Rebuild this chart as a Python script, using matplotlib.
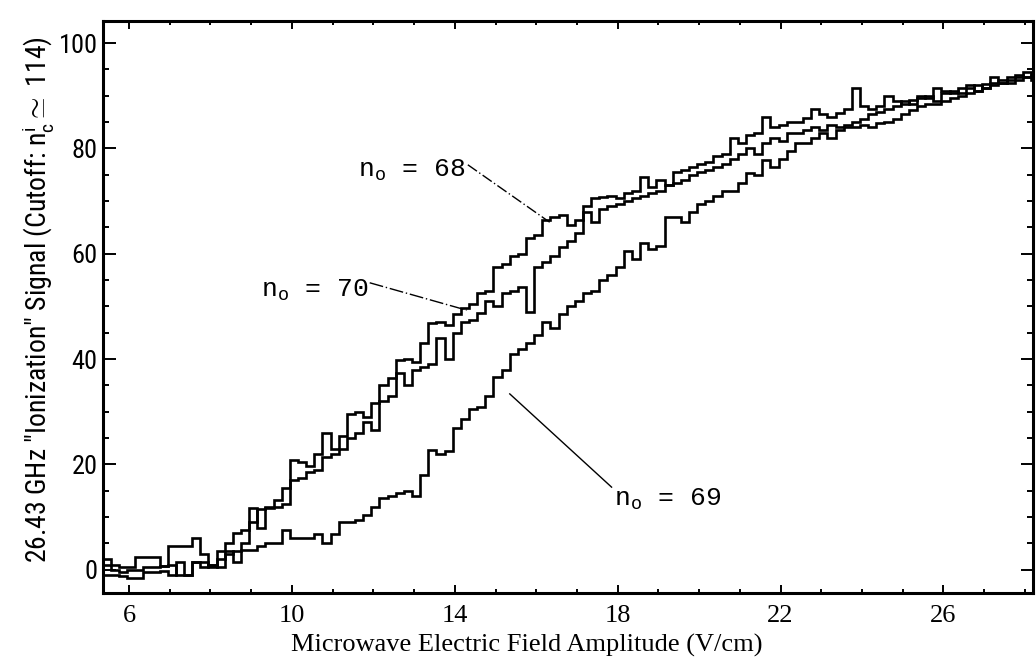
import numpy as np
import matplotlib
matplotlib.use("Agg")
import matplotlib.pyplot as plt
from matplotlib import font_manager
from matplotlib.ticker import MultipleLocator

# ---------------------------------------------------------------- data
# field grid: 0.2 V/cm bins starting at 5.35 V/cm (115 bins)
field_start = 5.35
field_step = 0.2

# n0 = 68 (upper trace through the middle of the scan)
signal_68 = [
    2.0, 1.0, 0.5, 0.5, 2.5,
    2.5, 2.5, 0.8, 4.5, 4.5,
    4.5, 6.0, 3.0, 1.0, 0.5,
    5.0, 7.0, 7.5, 11.8, 8.0,
    11.8, 13.3, 15.5, 20.8, 20.5,
    19.8, 22.0, 26.0, 23.0, 25.5,
    29.5, 30.0, 29.0, 31.6, 35.0,
    36.5, 39.8, 40.0, 39.5, 43.0,
    46.9, 47.0, 46.5, 48.5, 49.7,
    50.5, 52.5, 53.0, 57.5, 58.0,
    59.5, 60.0, 63.0, 63.5, 66.4,
    67.0, 67.4, 65.5, 66.5, 69.0,
    70.5, 70.8, 71.0, 70.5, 71.5,
    72.0, 74.5, 72.7, 74.0, 73.0,
    75.5, 76.0, 76.5, 77.0, 77.5,
    78.5, 79.0, 82.0, 81.0, 82.5,
    83.0, 86.0, 84.0, 84.5, 85.0,
    85.0, 85.7, 87.5, 86.5, 86.0,
    86.7, 87.5, 91.5, 88.0, 87.5,
    88.0, 90.0, 89.0, 88.5, 89.2,
    90.0, 89.5, 91.5, 91.0, 90.5,
    91.5, 92.0, 91.0, 92.3, 93.5,
    92.5, 93.5, 94.0, 93.5, 94.0,
]

# n0 = 70 (middle trace)
signal_70 = [
    1.0, 0.0, -0.5, 0.0, 0.0,
    0.5, 0.5, 0.8, 1.0, -1.0,
    -1.0, 1.5, 1.5, 0.5, 2.0,
    3.0, 3.5, 5.0, 9.0, 11.5,
    12.0, 12.0, 12.5, 17.0, 17.5,
    18.5, 19.0, 21.5, 22.0, 23.0,
    25.0, 26.0, 28.0, 26.5, 32.0,
    33.0, 37.4, 35.0, 38.0, 38.5,
    39.0, 44.0, 40.0, 45.0, 47.0,
    47.5, 48.8, 51.0, 50.0, 52.5,
    53.0, 53.7, 49.0, 57.5, 58.5,
    59.5, 61.3, 62.5, 64.0, 68.0,
    66.0, 68.5, 69.0, 69.5, 70.0,
    70.5, 71.0, 71.5, 72.0, 73.0,
    73.5, 74.0, 75.0, 75.5, 76.0,
    76.5, 77.0, 78.0, 79.0, 80.0,
    79.0, 81.0, 82.0, 81.5, 83.0,
    83.0, 83.5, 84.0, 83.5, 84.5,
    84.0, 84.5, 85.0, 85.5, 86.5,
    87.0, 87.5, 88.0, 89.0, 88.5,
    89.5, 90.0, 89.0, 90.5, 91.0,
    90.5, 91.5, 92.0, 91.5, 92.5,
    93.0, 92.5, 93.5, 94.5, 93.0,
]

# n0 = 69 (lower trace)
signal_69 = [
    -1.0, -1.0, -1.2, -1.5, -1.5,
    -0.5, -0.5, -0.3, -1.0, 1.5,
    -1.0, 1.5, 0.5, 1.0, 3.5,
    3.5, 1.5, 3.8, 3.8, 4.5,
    5.0, 5.0, 7.6, 6.0, 6.0,
    6.0, 6.8, 5.0, 6.8, 9.0,
    9.0, 9.5, 10.5, 12.0, 13.6,
    14.0, 14.5, 15.0, 14.0, 18.0,
    22.8, 22.0, 22.5, 27.0, 28.6,
    30.5, 31.0, 33.0, 36.6, 38.0,
    41.0, 42.0, 43.0, 44.5, 47.0,
    46.0, 48.5, 50.0, 51.0, 52.5,
    53.0, 55.0, 56.0, 57.5, 60.5,
    59.0, 62.0, 61.0, 61.5, 67.0,
    67.0, 66.0, 68.0, 69.5, 70.0,
    71.0, 72.0, 72.0, 73.5, 75.3,
    75.0, 77.8, 76.5, 78.0, 79.5,
    81.0, 81.0, 82.0, 83.0, 82.0,
    83.5, 84.0, 84.0, 84.5, 84.0,
    84.8, 85.0, 85.5, 86.5, 87.3,
    88.0, 88.5, 88.5, 89.0, 89.5,
    90.0, 90.5, 91.0, 91.5, 92.0,
    92.5, 93.0, 93.0, 93.5, 93.5,
]

x_ticks = [6, 10, 14, 18, 22, 26]
y_ticks = [0, 20, 40, 60, 80, 100]

# ---------------------------------------------------------------- fonts
available = {f.name for f in font_manager.fontManager.ttflist}
narrow = next((f for f in ["Roboto Condensed", "Liberation Sans Narrow",
                           "Open Sans Condensed", "Roboto"] if f in available),
              "DejaVu Sans")
mono = "Liberation Mono"
serif = "Liberation Serif"

plt.rcParams["mathtext.fontset"] = "custom"
plt.rcParams["mathtext.rm"] = mono
plt.rcParams["mathtext.it"] = narrow

# ---------------------------------------------------------------- figure
fig = plt.figure(figsize=(10.36, 6.68), dpi=100)
ax = fig.add_axes([103 / 1036, 1 - 593 / 668, (1033 - 103) / 1036, (593 - 21) / 668])

n_bins = len(signal_68)
edges = field_start + field_step * np.arange(n_bins + 1)

for sig in (signal_68, signal_70, signal_69):
    ax.stairs(sig, edges, color="black", lw=1.9, baseline=None)

ax.set_xlim(5.36, 28.2)
ax.set_ylim(-4.4, 104.2)

for s in ax.spines.values():
    s.set_linewidth(2.2)

ax.set_xticks(x_ticks)
ax.set_yticks(y_ticks)
ax.xaxis.set_minor_locator(MultipleLocator(1))
ax.yaxis.set_minor_locator(MultipleLocator(5))
ax.tick_params(which="both", direction="in", top=True, right=True, width=1.4)
ax.tick_params(axis="y", which="major", length=9, pad=4)
ax.tick_params(axis="y", which="minor", length=4)
ax.tick_params(axis="x", which="major", length=6, pad=9)
ax.tick_params(axis="x", which="minor", length=3)

for lab in ax.get_yticklabels():
    lab.set_fontfamily([narrow, "DejaVu Sans"])
    lab.set_fontsize(19)
for lab in ax.get_xticklabels():
    lab.set_fontfamily([serif, "DejaVu Serif"])
    lab.set_fontsize(19)

# axis titles
fig.text(527 / 1036, 1 - 645 / 668, "Microwave Electric Field Amplitude (V/cm)",
         ha="center", va="center", fontsize=19,
         family=[serif, "DejaVu Serif"])
fig.text(38 / 1036, 1 - 300 / 668,
         "26.43 GHz \"Ionization\" Signal (Cutoff: $n_c^i \\simeq$ 114)",
         rotation=90, ha="center", va="center", fontsize=20,
         family=[narrow, "DejaVu Sans"])

# curve labels with leader lines
lab_kw = dict(fontsize=19, family=[mono, "DejaVu Sans Mono"], color="black")
ax.text(14.25, 75.9, r"n$_\mathrm{o}$ = 68", ha="right", va="center", **lab_kw)
ax.plot([14.32, 16.33], [76.9, 66.0], color="black", lw=1.0, ls=(0, (8, 2, 1, 2)))

ax.text(11.87, 53.1, r"n$_\mathrm{o}$ = 70", ha="right", va="center", **lab_kw)
ax.plot([11.91, 14.29], [54.5, 49.3], color="black", lw=1.0, ls=(0, (10, 2, 1, 2)))

ax.text(17.9, 13.3, r"n$_\mathrm{o}$ = 69", ha="left", va="center", **lab_kw)
ax.plot([17.85, 15.35], [15.7, 33.4], color="black", lw=1.0)

fig.savefig("out.png", dpi=100)
